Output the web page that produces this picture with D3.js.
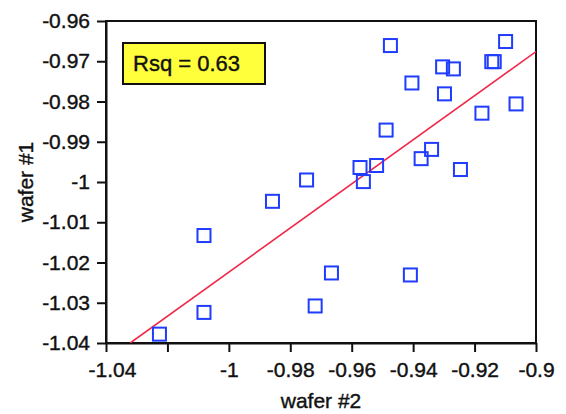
<!DOCTYPE html>
<html>
<head>
<meta charset="utf-8">
<script src="https://cdn.jsdelivr.net/npm/d3@7"></script>
<style>
  html, body { margin: 0; padding: 0; background: #fff; }
  svg { display: block; font-family: "Liberation Sans", Arial, sans-serif; }
</style>
</head>
<body>
<svg id="chart" width="566" height="414"></svg>
<script>
// wafer #2 (x) vs wafer #1 (y) measurements
const wafer2 = [-1.0226, -1.0081, -1.0081, -0.9858, -0.9747, -0.9719, -0.9666, -0.9573,
                -0.9562, -0.9519, -0.9488, -0.9474, -0.9404, -0.9409, -0.9374, -0.9340,
                -0.9304, -0.9298, -0.9269, -0.9246, -0.9176, -0.9144, -0.9136, -0.9099, -0.9065];
const wafer1 = [-1.0378, -1.0324, -1.0133, -1.0048, -0.9995, -1.0308, -1.0226, -0.9964,
                -0.9999, -0.9959, -0.9871, -0.9661, -0.9754, -1.0231, -0.9942, -0.9919,
                -0.9714, -0.9781, -0.9719, -0.9969, -0.9829, -0.9701, -0.9701, -0.9651, -0.9806];

// least-squares fit: wafer1 = intercept + slope * wafer2
const fitSlope = [0.548];
const fitIntercept = [-0.4744];
const rsqLabel = ["Rsq = 0.63"];

const xTicks = [-1.04, -1.02, -1, -0.98, -0.96, -0.94, -0.92, -0.9];
const xTickLabels = ["-1.04", "", "-1", "-0.98", "-0.96", "-0.94", "-0.92", "-0.9"];
const yTicks = [-0.96, -0.97, -0.98, -0.99, -1, -1.01, -1.02, -1.03, -1.04];
const yTickLabels = ["-0.96", "-0.97", "-0.98", "-0.99", "-1", "-1.01", "-1.02", "-1.03", "-1.04"];
const xDomain = [-1.04, -0.9];
const yDomain = [-1.04, -0.96];

const svg = d3.select("#chart");
const L = 106, R = 536, T = 21, B = 343;

const x = d3.scaleLinear().domain(xDomain).range([L, R]);
const y = d3.scaleLinear().domain(yDomain).range([B, T]);

// plot frame
svg.append("rect")
  .attr("x", L).attr("y", T).attr("width", R - L).attr("height", B - T)
  .attr("fill", "none").attr("stroke", "#111").attr("stroke-width", 2);

// clip region for the fit line
svg.append("clipPath").attr("id", "plot-clip")
  .append("rect").attr("x", L).attr("y", T).attr("width", R - L).attr("height", B - T);

// axes
const xAxis = svg.append("g")
  .attr("transform", `translate(0,${B})`)
  .call(d3.axisBottom(x).tickValues(xTicks)
    .tickFormat((d, i) => xTickLabels[i])
    .tickSize(9).tickPadding(10).tickSizeOuter(0));
const yAxis = svg.append("g")
  .attr("transform", `translate(${L},0)`)
  .call(d3.axisLeft(y).tickValues(yTicks)
    .tickFormat((d, i) => yTickLabels[i])
    .tickSize(9).tickPadding(7).tickSizeOuter(0));

[xAxis, yAxis].forEach(g => {
  g.select(".domain").attr("stroke", "#111").attr("stroke-width", 2);
  g.selectAll(".tick line").attr("stroke", "#111").attr("stroke-width", 2);
  g.selectAll(".tick text")
    .attr("fill", "#111")
    .attr("stroke", "#111").attr("stroke-width", 0.4)
    .style("font-size", "21px")
    .style("font-family", "'Liberation Sans', Arial, sans-serif");
});
// nudge the first x label clear of the y labels
xAxis.selectAll(".tick text").filter(d => d === -1.04).attr("dx", 6);

// axis titles
svg.append("text")
  .attr("x", (L + R) / 2).attr("y", 408)
  .attr("text-anchor", "middle").attr("fill", "#111")
  .attr("stroke", "#111").attr("stroke-width", 0.4)
  .style("font-size", "21px")
  .text("wafer #2");
svg.append("text")
  .attr("transform", `translate(33,${(T + B) / 2}) rotate(-90)`)
  .attr("text-anchor", "middle").attr("fill", "#111")
  .attr("stroke", "#111").attr("stroke-width", 0.4)
  .style("font-size", "21px")
  .text("wafer #1");

// regression line
const fx0 = (yDomain[0] - fitIntercept[0]) / fitSlope[0];
const fx1 = xDomain[1];
svg.append("line")
  .attr("clip-path", "url(#plot-clip)")
  .attr("x1", x(fx0)).attr("y1", y(fitIntercept[0] + fitSlope[0] * fx0))
  .attr("x2", x(fx1)).attr("y2", y(fitIntercept[0] + fitSlope[0] * fx1))
  .attr("stroke", "#f0284a").attr("stroke-width", 1.6);

// data squares
const s = 13;
svg.append("g").selectAll("rect")
  .data(wafer2.map((v, i) => [v, wafer1[i]]))
  .join("rect")
  .attr("x", d => x(d[0]) - s / 2)
  .attr("y", d => y(d[1]) - s / 2)
  .attr("width", s).attr("height", s)
  .attr("fill", "none")
  .attr("stroke", "#1f3cff")
  .attr("stroke-width", 2);

// Rsq box
const box = svg.append("g");
box.append("rect")
  .attr("x", 123).attr("y", 43).attr("width", 142).attr("height", 41)
  .attr("fill", "#ffff3c").attr("stroke", "#111").attr("stroke-width", 2);
box.append("text")
  .attr("x", 133).attr("y", 71)
  .attr("fill", "#111")
  .attr("stroke", "#111").attr("stroke-width", 0.4)
  .style("font-size", "22px")
  .text(rsqLabel[0]);
</script>
</body>
</html>
